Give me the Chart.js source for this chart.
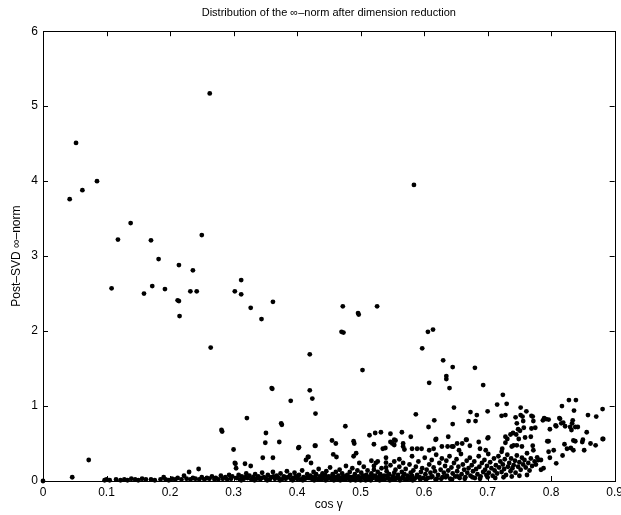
<!DOCTYPE html>
<html>
<head>
<meta charset="utf-8">
<script src="https://cdn.jsdelivr.net/npm/chart.js@4.4.0/dist/chart.umd.min.js"></script>
<style>
  html, body { margin:0; padding:0; background:#fff; overflow:hidden; }
  #wrap { position:absolute; left:0; top:0; width:627px; height:515px; }
</style>
</head>
<body>
<div id="wrap"><canvas id="myChart" width="627" height="515"></canvas></div>
<script>
// axis ticks
const xTicks = [0, 0.1, 0.2, 0.3, 0.4, 0.5, 0.6, 0.7, 0.8, 0.9];
const yTicks = [0, 1, 2, 3, 4, 5, 6];

// points, [cos gamma, post-SVD norm]
const highPoints = [
  [0.042,3.76],[0.052,4.51],[0.062,3.88],[0.085,4.0],[0.108,2.57],[0.118,3.22],[0.138,3.44],
  [0.159,2.50],[0.170,3.21],[0.172,2.60],[0.182,2.96],[0.192,2.56],[0.212,2.41],[0.214,2.40],
  [0.214,2.88],[0.215,2.20],[0.232,2.53],[0.236,2.81],[0.242,2.53],[0.250,3.28],[0.2625,5.17],
  [0.264,1.78],[0.302,2.53],[0.312,2.68],[0.312,2.49],[0.327,2.31],[0.344,2.16],[0.362,2.39],
  [0.360,1.24],[0.361,1.23],[0.390,1.07],[0.420,1.69],[0.420,1.21],[0.424,1.10],[0.470,1.99],
  [0.472,2.33],[0.473,1.98],[0.496,2.24],[0.497,2.22],[0.503,1.48],[0.526,2.33],[0.584,3.95],
  [0.597,1.77],[0.606,1.99],[0.614,2.02],[0.608,1.31],[0.630,1.61],[0.635,1.40],[0.635,1.36],
  [0.640,1.24],[0.645,1.52],[0.680,1.51],[0.693,1.28],[0.724,1.15],[0.730,1.03],[0.715,1.02],
  [0.828,1.08],[0.839,1.08],[0.817,1.00]
];

const midPoints = [
  [0.281,0.68],[0.282,0.66],[0.300,0.42],[0.321,0.84],[0.351,0.64],[0.350,0.51],[0.372,0.52],
  [0.375,0.77],[0.376,0.75],[0.402,0.44],[0.403,0.45],[0.428,0.47],[0.429,0.90],[0.429,0.47],
  [0.455,0.54],[0.461,0.50],[0.476,0.73],[0.489,0.53],[0.490,0.50],[0.514,0.61],[0.521,0.49],
  [0.523,0.64],[0.532,0.65],[0.535,0.43],[0.539,0.44],[0.547,0.63],[0.547,0.52],[0.553,0.55],
  [0.555,0.54],[0.550,0.50],[0.553,0.48],[0.565,0.65],[0.567,0.46],[0.567,0.50],[0.569,0.42],
  [0.579,0.59],[0.581,0.43],[0.587,0.89],[0.589,0.43],[0.596,0.43],[0.607,0.72],[0.608,0.41],
  [0.615,0.43],[0.616,0.81],[0.618,0.55],[0.619,0.56],[0.628,0.46],[0.637,0.46],[0.638,0.59],
  [0.644,0.46],[0.645,0.76],[0.646,0.46],[0.647,0.98],[0.652,0.50],[0.655,0.41],[0.660,0.50],
  [0.666,0.55],[0.667,0.55],[0.670,0.80],[0.672,0.47],[0.673,0.92],[0.681,0.80],[0.683,0.88],
  [0.686,0.52],[0.688,0.43],[0.697,0.41],[0.700,0.93],[0.700,0.57],[0.701,0.58],[0.722,0.87],
  [0.723,0.43],[0.728,0.88],[0.728,0.59],[0.728,0.51],[0.731,0.56],[0.736,0.62],[0.740,0.64],
  [0.738,0.46],[0.741,0.476],[0.744,0.85],[0.745,0.62],[0.746,0.77],[0.746,0.476],[0.748,0.69],
  [0.749,0.56],[0.751,0.67],[0.752,0.98],[0.752,0.88],[0.754,0.46],[0.755,0.86],[0.756,0.80],
  [0.757,0.71],[0.759,0.58],[0.761,0.93],[0.768,0.59],[0.769,0.87],[0.769,0.70],[0.771,0.86],
  [0.771,0.47],[0.772,0.80],[0.775,0.71],[0.787,0.81],[0.789,0.84],[0.792,0.826],[0.794,0.53],
  [0.796,0.82],[0.796,0.53],[0.798,0.69],[0.807,0.74],[0.808,0.73],[0.813,0.84],[0.814,0.83],
  [0.816,0.77],[0.819,0.78],[0.821,0.49],[0.822,0.73],[0.830,0.72],[0.832,0.68],[0.833,0.77],
  [0.834,0.81],[0.836,0.94],[0.835,0.54],[0.838,0.72],[0.838,0.53],[0.842,0.72],[0.849,0.52],
  [0.850,0.55],[0.856,0.65],[0.858,0.88],[0.862,0.50],[0.870,0.476],[0.871,0.86],[0.881,0.96],
  [0.881,0.56],[0.882,0.56]
];

const lowPoints = [
  [0,0],[0.046,0.05],[0.072,0.28],[0.097,0.01],
  [0.100,0.02],[0.105,0.01],[0.115,0.02],[0.122,0.01],[0.128,0.02],[0.133,0.01],[0.139,0.03],
  [0.145,0.02],[0.150,0.01],[0.156,0.03],[0.162,0.02],[0.170,0.02],[0.176,0.01],[0.185,0.02],
  [0.190,0.05],[0.193,0.02],[0.198,0.01],
  [0.203,0.03],[0.208,0.02],[0.212,0.04],[0.218,0.02],[0.222,0.07],[0.226,0.03],[0.230,0.12],
  [0.232,0.02],[0.236,0.04],[0.240,0.03],[0.245,0.16],[0.246,0.02],[0.250,0.05],[0.254,0.02],
  [0.258,0.04],[0.262,0.03],[0.266,0.06],[0.270,0.02],[0.272,0.04],[0.276,0.02],[0.280,0.07],
  [0.283,0.03],[0.287,0.05],[0.290,0.02],[0.293,0.08],[0.296,0.03],[0.298,0.06],
  [0.302,0.24],[0.303,0.23],[0.304,0.17],[0.305,0.04],[0.308,0.08],[0.310,0.02],[0.313,0.06],
  [0.316,0.03],[0.318,0.23],[0.320,0.10],[0.322,0.04],[0.325,0.07],[0.327,0.20],[0.328,0.02],
  [0.331,0.05],[0.334,0.09],[0.336,0.03],[0.339,0.06],[0.342,0.02],[0.346,0.31],[0.345,0.11],
  [0.348,0.05],[0.351,0.03],[0.354,0.08],[0.357,0.02],[0.359,0.05],[0.362,0.31],[0.362,0.12],
  [0.365,0.03],[0.368,0.07],[0.371,0.04],[0.374,0.10],[0.376,0.02],[0.379,0.06],[0.382,0.03],
  [0.384,0.13],[0.386,0.05],[0.389,0.08],[0.391,0.02],[0.394,0.04],[0.396,0.11],[0.398,0.06],
  [0.400,0.03],[0.403,0.08],[0.405,0.02],[0.408,0.14],[0.410,0.05],[0.412,0.03],[0.414,0.28],
  [0.417,0.32],[0.416,0.09],[0.418,0.32],[0.419,0.04],[0.422,0.24],[0.421,0.07],[0.424,0.02],
  [0.426,0.12],[0.428,0.05],[0.430,0.09],[0.432,0.03],[0.434,0.16],[0.436,0.06],[0.438,0.02],
  [0.440,0.10],[0.442,0.04],[0.444,0.08],[0.446,0.13],[0.448,0.03],[0.450,0.06],[0.452,0.18],
  [0.454,0.02],[0.457,0.355],[0.456,0.09],[0.459,0.05],[0.462,0.32],[0.461,0.12],[0.463,0.03],
  [0.465,0.07],[0.467,0.15],[0.469,0.04],[0.471,0.10],[0.473,0.02],[0.475,0.06],[0.477,0.20],
  [0.479,0.08],[0.481,0.03],[0.483,0.12],[0.485,0.05],[0.487,0.17],[0.489,0.33],[0.489,0.02],
  [0.491,0.09],[0.493,0.37],[0.493,0.04],[0.495,0.14],[0.497,0.06],[0.498,0.24],[0.499,0.02],
  [0.501,0.11],[0.503,0.05],[0.505,0.19],[0.507,0.03],[0.509,0.08],[0.511,0.14],[0.513,0.02],
  [0.515,0.06],[0.517,0.27],[0.517,0.10],[0.519,0.04],[0.521,0.20],[0.521,0.15],[0.523,0.07],
  [0.524,0.24],[0.525,0.02],[0.527,0.26],[0.527,0.12],[0.529,0.05],[0.531,0.09],[0.533,0.17],
  [0.535,0.03],[0.537,0.07],[0.540,0.31],[0.540,0.244],[0.540,0.18],[0.541,0.13],[0.543,0.04],
  [0.545,0.09],[0.547,0.21],[0.549,0.02],[0.551,0.06],[0.553,0.26],[0.553,0.11],[0.555,0.15],
  [0.557,0.04],[0.559,0.08],[0.561,0.29],[0.561,0.19],[0.563,0.03],[0.565,0.12],[0.567,0.24],
  [0.567,0.06],[0.569,0.09],[0.571,0.16],[0.573,0.02],[0.575,0.05],[0.577,0.22],[0.579,0.11],
  [0.581,0.33],[0.581,0.07],[0.583,0.14],[0.585,0.03],[0.587,0.19],[0.589,0.08],[0.591,0.26],
  [0.593,0.05],[0.595,0.12],[0.597,0.17],[0.599,0.04],
  [0.601,0.31],[0.602,0.09],[0.604,0.15],[0.606,0.04],[0.608,0.22],[0.610,0.11],[0.612,0.28],
  [0.613,0.06],[0.615,0.18],[0.617,0.13],[0.619,0.35],[0.620,0.03],[0.622,0.08],[0.624,0.24],
  [0.626,0.15],[0.628,0.30],[0.629,0.05],[0.631,0.11],[0.633,0.20],[0.635,0.27],[0.636,0.07],
  [0.638,0.14],[0.640,0.33],[0.641,0.03],[0.643,0.18],[0.645,0.10],[0.647,0.24],[0.649,0.06],
  [0.651,0.29],[0.652,0.13],[0.654,0.19],[0.656,0.04],[0.658,0.36],[0.659,0.09],[0.661,0.22],
  [0.663,0.15],[0.665,0.05],[0.667,0.27],[0.668,0.11],[0.670,0.17],[0.672,0.31],[0.673,0.07],
  [0.675,0.21],[0.677,0.13],[0.679,0.26],[0.680,0.04],[0.682,0.16],[0.684,0.09],[0.686,0.33],
  [0.687,0.19],[0.689,0.06],[0.691,0.24],[0.693,0.12],[0.695,0.28],[0.696,0.15],[0.698,0.08],
  [0.699,0.20],
  [0.701,0.36],[0.702,0.11],[0.704,0.25],[0.706,0.17],[0.708,0.07],[0.710,0.30],[0.711,0.14],
  [0.713,0.21],[0.715,0.10],[0.717,0.33],[0.718,0.18],[0.720,0.26],[0.722,0.39],[0.722,0.12],
  [0.724,0.22],[0.726,0.16],[0.727,0.29],[0.729,0.08],[0.731,0.35],[0.732,0.19],[0.734,0.24],
  [0.736,0.13],[0.737,0.30],[0.739,0.17],[0.741,0.21],[0.743,0.27],[0.744,0.11],[0.746,0.34],
  [0.748,0.19],[0.750,0.25],[0.752,0.15],[0.754,0.31],[0.756,0.22],[0.758,0.28],[0.760,0.18],
  [0.762,0.37],[0.764,0.24],[0.766,0.14],[0.768,0.30],[0.770,0.20],[0.772,0.41],[0.774,0.26],
  [0.776,0.22],[0.778,0.316],[0.780,0.28],[0.784,0.28],[0.784,0.15],[0.788,0.17],[0.796,0.39],
  [0.798,0.31],
  [0.804,0.41],[0.808,0.236],[0.818,0.34],[0.825,0.43],[0.831,0.44],[0.835,0.41],[0.852,0.41]
];

// extra points in the crowded strip just above zero
const densePoints = [
  [0.312,0.01],[0.319,0.05],[0.333,0.01],[0.344,0.04],[0.353,0.01],[0.363,0.06],[0.373,0.01],
  [0.381,0.05],[0.393,0.01],[0.401,0.06],[0.409,0.01],[0.415,0.04],[0.423,0.05],[0.427,0.01],
  [0.435,0.02],[0.439,0.06],[0.445,0.01],[0.449,0.05],[0.455,0.04],[0.458,0.01],[0.464,0.05],
  [0.468,0.01],[0.472,0.05],[0.476,0.02],[0.480,0.06],[0.484,0.01],[0.488,0.05],[0.492,0.01],
  [0.496,0.04],[0.500,0.01],[0.504,0.07],[0.508,0.01],[0.512,0.05],[0.516,0.01],[0.520,0.06],
  [0.526,0.04],[0.530,0.01],[0.534,0.06],[0.538,0.02],[0.542,0.07],[0.546,0.01],[0.550,0.04],
  [0.554,0.02],[0.558,0.06],[0.562,0.01],[0.566,0.04],[0.570,0.02],[0.574,0.07],[0.578,0.03],
  [0.582,0.01],[0.588,0.05],[0.594,0.02],[0.603,0.02],[0.611,0.05],[0.618,0.02],[0.627,0.03],
  [0.634,0.05],[0.644,0.02],[0.653,0.06],[0.664,0.03],[0.676,0.05],[0.688,0.03],[0.700,0.05],
  [0.712,0.04],[0.725,0.05],[0.738,0.06],[0.750,0.07],[0.762,0.08]
];

const allPoints = highPoints.concat(midPoints, lowPoints, densePoints).map(p => ({x: p[0], y: p[1]}));

Chart.defaults.font.family = '"Liberation Sans", Arial, sans-serif';
Chart.defaults.font.size = 11;
Chart.defaults.color = '#000';

// matlab-like box with inward ticks
const boxTicks = {
  id: 'boxTicks',
  afterDatasetsDraw(chart) {
    const ctx = chart.ctx;
    const a = chart.chartArea;
    const xs = chart.scales.x, ys = chart.scales.y;
    ctx.save();
    ctx.strokeStyle = '#000';
    ctx.lineWidth = 1;
    ctx.strokeRect(Math.round(a.left) + 0.5, Math.round(a.top) + 0.5,
      Math.round(a.right - a.left), Math.round(a.bottom - a.top));
    ctx.beginPath();
    xTicks.forEach(v => {
      const px = Math.round(xs.getPixelForValue(v)) + 0.5;
      ctx.moveTo(px, a.bottom); ctx.lineTo(px, a.bottom - 5);
      ctx.moveTo(px, a.top); ctx.lineTo(px, a.top + 5);
    });
    yTicks.forEach(v => {
      const py = Math.round(ys.getPixelForValue(v)) + 0.5;
      ctx.moveTo(a.left, py); ctx.lineTo(a.left + 5, py);
      ctx.moveTo(a.right, py); ctx.lineTo(a.right - 5, py);
    });
    ctx.stroke();
    ctx.restore();
  }
};

const ctx = document.getElementById('myChart').getContext('2d');
const myChart = new Chart(ctx, {
  type: 'scatter',
  data: {
    datasets: [{
      label: 'points',
      data: allPoints,
      backgroundColor: '#000',
      borderColor: '#000',
      borderWidth: 0,
      pointRadius: 2.4,
      clip: false
    }]
  },
  options: {
    responsive: false,
    animation: false,
    layout: { padding: 0 },
    plugins: {
      legend: { display: false },
      tooltip: { enabled: false },
      title: {
        display: true,
        text: 'Distribution of the \u221e\u2013norm after dimension reduction',
        fullSize: false,
        font: { size: 11, weight: 'normal' },
        padding: { top: 6, bottom: 12 }
      }
    },
    scales: {
      x: {
        type: 'linear',
        min: 0, max: 0.9,
        afterFit(s) { s.height = 34; },
        afterBuildTicks(s) { s.ticks = xTicks.map(v => ({value: v})); },
        grid: { display: false, drawTicks: false },
        border: { display: false },
        ticks: { padding: 4, maxRotation: 0, font: { size: 12 } },
        title: { display: true, text: 'cos \u03b3', font: { size: 12 }, padding: { top: 0, bottom: 3 } }
      },
      y: {
        min: 0, max: 6,
        afterFit(s) { s.width = 43; },
        afterBuildTicks(s) { s.ticks = yTicks.map(v => ({value: v})); },
        grid: { display: false, drawTicks: false },
        border: { display: false },
        ticks: { padding: 5, font: { size: 12 } },
        title: { display: true, text: 'Post\u2013SVD \u221e\u2013norm', font: { size: 12 }, padding: { top: 9, bottom: 0 } }
      }
    }
  },
  plugins: [boxTicks]
});
</script>
</body>
</html>
